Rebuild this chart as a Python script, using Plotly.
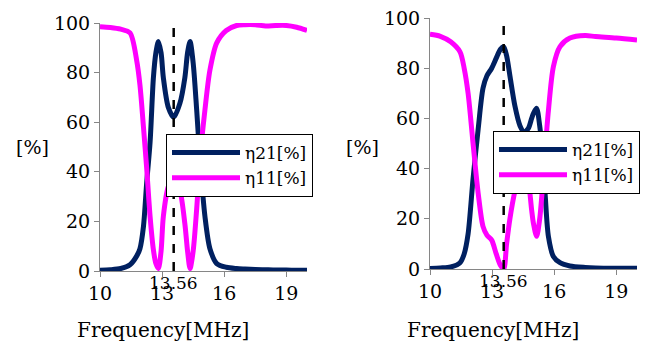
import plotly.graph_objects as go

# ---- data (left panel) ----
freq_L = [10.0, 10.5, 11.0, 11.45, 11.77, 11.93, 12.1, 12.25, 12.42, 12.58, 12.7, 12.82, 12.95,
          13.06, 13.3, 13.56, 13.86, 14.1, 14.23, 14.35, 14.5, 14.67, 14.83, 15.07, 15.31, 15.64,
          16.1, 16.6, 17.0, 17.5, 18.0, 18.5, 19.0, 19.5, 20.0]
eta21_L = [0.3, 0.5, 1.0, 2.5, 6, 9, 18, 35, 52, 78, 88, 92.5, 88,
           78, 66, 62, 67.6, 78, 88, 92.5, 84, 65, 45, 22, 9, 3,
           1.5, 1.0, 0.8, 0.6, 0.5, 0.4, 0.4, 0.3, 0.3]
eta11_L = [98.5, 98.2, 97.5, 96, 85, 75, 58, 42, 22, 8.5, 3, 1, 8,
           22, 34, 38, 32.6, 19, 8, 1, 8, 25, 45, 65, 81, 92,
           97, 99, 99.3, 99.3, 98.8, 99, 99, 98.3, 97]

# ---- data (right panel) ----
freq_R = [10.0, 10.5, 11.0, 11.45, 11.65, 11.84, 12.08, 12.33, 12.56, 12.75, 12.98, 13.2, 13.4,
          13.56, 13.7, 13.86, 14.1, 14.35, 14.55, 14.75, 14.91, 15.0, 15.15, 15.3, 15.4, 15.56,
          15.72, 15.96, 16.28, 16.76, 17.5, 18.0, 19.0, 20.0]
eta21_R = [0.2, 0.4, 0.8, 2.5, 6, 14, 36, 56, 72, 77, 80, 84, 87.5,
           88.5, 85, 77, 65, 57, 54.5, 56, 60, 62, 64, 57, 49, 30,
           13, 5, 2.5, 1.2, 0.6, 0.4, 0.3, 0.3]
eta11_R = [93.5, 92.7, 90.5, 86.5, 80, 70, 50, 30, 17, 13.5, 11.5, 6, 1.5,
           0, 10, 20, 31, 39, 42, 35.5, 23.5, 18, 13, 20, 29, 47,
           63, 80.6, 88.6, 92, 93, 92.6, 92, 91.2]

f_marker = 13.56
x_ticks = [10, 13, 16, 19]
y_ticks = [0, 20, 40, 60, 80, 100]

NAVY = "#002060"
MAG = "#FF00FF"
FONT = "DejaVu Serif"
AXC = "#868686"

fig = go.Figure()
fig.add_trace(go.Scatter(x=freq_L, y=eta21_L, name="η21[%]", mode="lines", line=dict(color=NAVY, width=5, shape="spline", smoothing=0.8), xaxis="x", yaxis="y", legend="legend"))
fig.add_trace(go.Scatter(x=freq_L, y=eta11_L, name="η11[%]", mode="lines", line=dict(color=MAG, width=5, shape="spline", smoothing=0.8), xaxis="x", yaxis="y", legend="legend"))
fig.add_trace(go.Scatter(x=freq_R, y=eta21_R, name="η21[%]", mode="lines", line=dict(color=NAVY, width=5, shape="spline", smoothing=0.8), xaxis="x2", yaxis="y2", legend="legend2"))
fig.add_trace(go.Scatter(x=freq_R, y=eta11_R, name="η11[%]", mode="lines", line=dict(color=MAG, width=5, shape="spline", smoothing=0.8), xaxis="x2", yaxis="y2", legend="legend2"))

W, H = 649, 349
def xax(d0, d1, anchor):
    return dict(domain=[d0 / W, d1 / W], range=[10, 20], tickvals=x_ticks, showgrid=False, zeroline=False,
                showline=True, linecolor=AXC, linewidth=1, ticks="outside", ticklen=5, tickcolor=AXC,
                tickfont=dict(family=FONT, size=19, color="black"), anchor=anchor, fixedrange=True, automargin=False)
def yax(top, bot, anchor):
    return dict(domain=[1 - bot / H, 1 - top / H], range=[0, 100], tickvals=y_ticks, showgrid=False, zeroline=False,
                showline=True, linecolor=AXC, linewidth=1, ticks="outside", ticklen=5, tickcolor=AXC,
                tickfont=dict(family=FONT, size=19, color="black"), anchor=anchor, fixedrange=True, automargin=False)

legstyle = dict(bgcolor="white", bordercolor="black", borderwidth=1, font=dict(family=FONT, size=17, color="black"),
                xanchor="left", yanchor="top", tracegroupgap=0, itemwidth=68)

fig.update_layout(
    width=W, height=H, margin=dict(l=0, r=0, t=0, b=0, autoexpand=False),
    paper_bgcolor="white", plot_bgcolor="white", showlegend=True,
    font=dict(family=FONT),
    xaxis=xax(100, 307, "y"), yaxis=yax(23, 271, "x"),
    xaxis2=xax(430, 637, "y2"), yaxis2=yax(18, 269, "x2"),
    legend=dict(x=166 / W, y=1 - 134 / H, **legstyle),
    legend2=dict(x=493 / W, y=1 - 131 / H, **legstyle),
)

for xr, yr in [("x", "y"), ("x2", "y2")]:
    fig.add_shape(type="line", xref=xr, yref=yr, x0=f_marker, x1=f_marker, y0=0, y1=100,
                  line=dict(color="black", width=2.5, dash="dash"))
    fig.add_annotation(x=f_marker, y=0, xref=xr, yref=yr, text="13.56", showarrow=False,
                       yanchor="top", yshift=0, font=dict(family=FONT, size=17, color="black"))

for cx in [163, 493]:
    fig.add_annotation(x=cx / W, y=1 - 330 / H, xref="paper", yref="paper", text="Frequency[MHz]", showarrow=False,
                       xanchor="center", yanchor="middle", font=dict(family=FONT, size=20, color="black"))
for cx in [32, 362]:
    fig.add_annotation(x=cx / W, y=1 - 147 / H, xref="paper", yref="paper", text="[%]", showarrow=False,
                       xanchor="center", yanchor="middle", font=dict(family=FONT, size=19, color="black"))

fig.write_html("out.html")
